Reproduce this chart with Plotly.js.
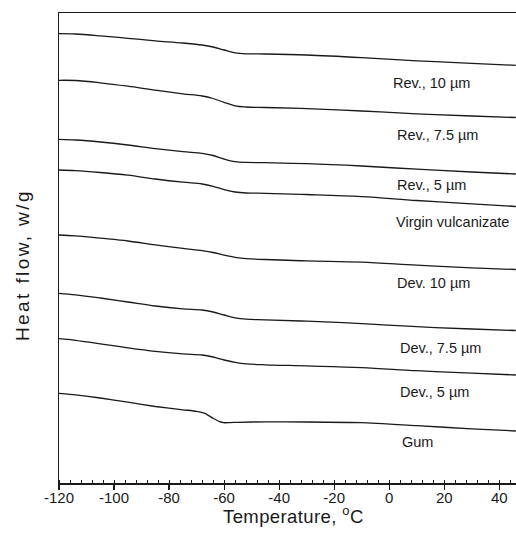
<!DOCTYPE html>
<html>
<head>
<meta charset="utf-8">
<script src="https://cdn.plot.ly/plotly-3.0.1.min.js"></script>
<style>
  html, body { margin: 0; padding: 0; background: #fff; }
  #chart { width: 516px; height: 554px; }
  /* widen the axis captions slightly */
  text[data-unformatted="Heat flow, w/g"] { letter-spacing: 2.4px; }
  text[data-unformatted="Temperature, <sup>o</sup>C"] { letter-spacing: 0.4px; }
</style>
</head>
<body>
<div id="chart"></div>
<script>
// DSC heat-flow traces (arbitrary offset units, curves stacked vertically)
const temps  = [-120, -114, -105, -95, -85, -75, -68, -64, -60, -56, -52, -45, -30, -10, 10, 30, 46];
const rev10  = [4.493, 4.490, 4.472, 4.447, 4.422, 4.400, 4.380, 4.360, 4.330, 4.302, 4.292, 4.290, 4.280, 4.254, 4.222, 4.197, 4.177];
const rev75  = [4.027, 4.025, 4.002, 3.968, 3.928, 3.892, 3.870, 3.845, 3.807, 3.772, 3.760, 3.755, 3.744, 3.720, 3.692, 3.670, 3.655];
const rev5   = [3.437, 3.430, 3.410, 3.380, 3.344, 3.314, 3.297, 3.275, 3.240, 3.214, 3.206, 3.203, 3.194, 3.170, 3.138, 3.110, 3.090];
const virgin = [3.130, 3.124, 3.105, 3.078, 3.040, 3.008, 2.990, 2.967, 2.934, 2.910, 2.900, 2.897, 2.885, 2.864, 2.825, 2.792, 2.765];
const dev10  = [2.480, 2.472, 2.448, 2.420, 2.382, 2.346, 2.323, 2.305, 2.278, 2.256, 2.243, 2.235, 2.221, 2.208, 2.178, 2.152, 2.135];
const dev75  = [1.897, 1.882, 1.850, 1.810, 1.770, 1.742, 1.730, 1.710, 1.680, 1.652, 1.638, 1.632, 1.618, 1.594, 1.563, 1.540, 1.525];
const dev5   = [1.443, 1.427, 1.392, 1.352, 1.317, 1.292, 1.280, 1.260, 1.230, 1.207, 1.192, 1.182, 1.171, 1.154, 1.123, 1.098, 1.080];

// Gum shows a sharper glass transition ending near -60 °C
const gumTemps = [-120, -114, -105, -95, -85, -75, -70, -67, -64, -61.6, -60.2, -58, -55, -45, -30, -10, 10, 30, 46];
const gum      = [0.897, 0.882, 0.850, 0.808, 0.765, 0.732, 0.717, 0.697, 0.647, 0.613, 0.603, 0.604, 0.607, 0.612, 0.610, 0.603, 0.573, 0.542, 0.520];

// Curve labels and where they sit (temperature, heat flow)
const labelText = ["Rev., 10 \u00b5m", "Rev., 7.5 \u00b5m", "Rev., 5 \u00b5m", "Virgin vulcanizate",
                   "Dev. 10 \u00b5m", "Dev., 7.5 \u00b5m", "Dev., 5 \u00b5m", "Gum"];
const labelT    = [15.5, 17.7, 15.5, 23.0, 16.1, 18.7, 16.4, 10.1];
const labelY    = [3.997, 3.480, 2.980, 2.613, 1.997, 1.347, 0.913, 0.413];

// Temperature axis ticks
const tickVals = [-120, -100, -80, -60, -40, -20, 0, 20, 40];
const tickText = ["-120", "-100", "-80", "-60", "-40", "-20", "0", "20", "40"];

const ink = '#1a1a1a';
const series = [rev10, rev75, rev5, virgin, dev10, dev75, dev5];
const traces = series.map(ys => ({
  x: temps, y: ys, type: 'scatter', mode: 'lines',
  line: {color: ink, width: 1.3, shape: 'spline', smoothing: 1.0}, hoverinfo: 'skip'
}));
traces.push({
  x: gumTemps, y: gum, type: 'scatter', mode: 'lines',
  line: {color: ink, width: 1.3, shape: 'spline', smoothing: 0.5}, hoverinfo: 'skip'
});

const font = 'Liberation Sans, Arial, Helvetica, sans-serif';

const annotations = labelText.map((t, i) => ({
  x: labelT[i], y: labelY[i], xref: 'x', yref: 'y',
  text: t, showarrow: false, xanchor: 'center', yanchor: 'middle',
  font: {family: font, size: 14.5, color: ink}
}));
// axis captions
annotations.push({
  x: -0.081, y: 0.4638, xref: 'paper', yref: 'paper',
  text: 'Heat flow, w/g', textangle: -90, showarrow: false,
  xanchor: 'center', yanchor: 'middle', borderpad: 0,
  font: {family: font, size: 19, color: ink}
});
annotations.push({
  x: 0.5136, y: -0.068, xref: 'paper', yref: 'paper',
  text: 'Temperature, <sup>o</sup>C', showarrow: false,
  xanchor: 'center', yanchor: 'middle', borderpad: 0,
  font: {family: font, size: 18.5, color: ink}
});

const layout = {
  width: 516, height: 554,
  margin: {l: 59, r: 0, t: 13, b: 71, pad: 0},
  paper_bgcolor: '#ffffff', plot_bgcolor: '#ffffff',
  showlegend: false,
  font: {family: font, color: ink},
  xaxis: {
    range: [-120, 46.07], autorange: false,
    tickmode: 'array', tickvals: tickVals, ticktext: tickText,
    ticks: 'outside', ticklen: 5, tickwidth: 1.2, tickcolor: ink,
    ticklabelstandoff: -5,
    minor: {tick0: -120, dtick: 4, ticks: 'inside', ticklen: 3, tickwidth: 1, tickcolor: ink},
    showline: true, linecolor: ink, linewidth: 1.5, mirror: true,
    showgrid: false, zeroline: false,
    tickfont: {family: font, size: 15, color: ink}
  },
  yaxis: {
    range: [0, 4.70], autorange: false,
    showticklabels: false, ticks: '',
    showline: true, linecolor: ink, linewidth: 1.5,
    showgrid: false, zeroline: false
  },
  annotations: annotations
};

Plotly.newPlot('chart', traces, layout, {displayModeBar: false, staticPlot: true});
</script>
</body>
</html>
